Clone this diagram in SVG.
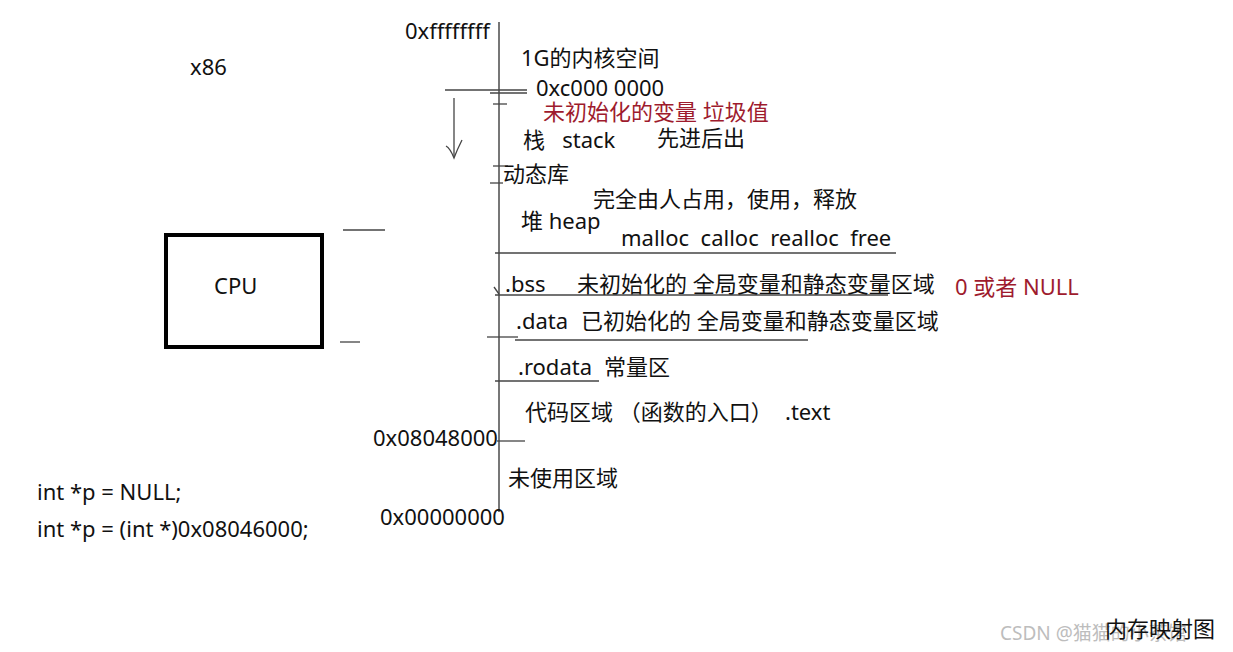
<svg xmlns="http://www.w3.org/2000/svg" width="1233" height="652" viewBox="0 0 1233 652">
<style>
text{font-family:"Noto Sans","Noto Sans CJK SC",sans-serif;font-size:22px;fill:#111}
.red{fill:#9e1b2d}
.wm{fill:#bdbdbd;font-size:19px}
.ln{stroke:#444;stroke-width:1.3;fill:none}
.ax{stroke:#777;stroke-width:2;fill:none}
</style>
<rect width="1233" height="652" fill="#fff"/>
<g id="connectors">
<line class="ax" x1="499" y1="22" x2="499" y2="512"/>
<line class="ln" x1="445" y1="90" x2="527" y2="90"/>
<line class="ln" x1="490" y1="93" x2="527" y2="93"/>
<line class="ln" x1="493" y1="104" x2="507" y2="104"/>
<line class="ln" x1="454" y1="98" x2="454" y2="156"/>
<path class="ln" d="M446,146 Q450,148 454,158 Q457,150 462,140"/>
<line class="ln" x1="493" y1="166" x2="508" y2="166"/>
<line class="ln" x1="490" y1="183" x2="503" y2="183"/>
<line class="ln" x1="495" y1="253" x2="896" y2="253"/>
<line class="ln" x1="494" y1="287" x2="499" y2="294"/>
<line class="ln" x1="495" y1="295" x2="888" y2="295"/>
<line class="ln" x1="487" y1="337" x2="518" y2="337"/>
<line class="ln" x1="515" y1="340" x2="808" y2="340"/>
<line class="ln" x1="495" y1="381" x2="599" y2="381"/>
<line class="ln" x1="497" y1="441" x2="525" y2="441"/>
<line class="ln" x1="343" y1="230" x2="385" y2="230"/>
<line class="ln" x1="340" y1="342" x2="360" y2="342"/>
</g>
<g id="cpu">
<rect x="166" y="235" width="156" height="112" fill="none" stroke="#000" stroke-width="4"/>
<text x="214" y="294">CPU</text>
</g>
<g id="labels">
<text x="190" y="75">x86</text>
<text x="405" y="39">0xffffffff</text>
<text x="521" y="66">1G的内核空间</text>
<text x="536" y="96">0xc000 0000</text>
<text class="red" x="543" y="120">未初始化的变量 垃圾值</text>
<text x="523" y="148" xml:space="preserve">栈   stack</text>
<text x="657" y="146">先进后出</text>
<text x="503" y="182">动态库</text>
<text x="593" y="207">完全由人占用，使用，释放</text>
<text x="521" y="229">堆 heap</text>
<text x="621" y="246" xml:space="preserve">malloc  calloc  realloc  free</text>
<text x="505" y="292">.bss</text>
<text x="577" y="292">未初始化的 全局变量和静态变量区域</text>
<text class="red" x="955" y="295">0 或者 NULL</text>
<text x="516" y="329">.data</text>
<text x="581" y="329">已初始化的 全局变量和静态变量区域</text>
<text x="518" y="375">.rodata</text>
<text x="604" y="375">常量区</text>
<text x="525" y="420">代码区域 （函数的入口）</text>
<text x="785" y="420">.text</text>
<text x="373" y="446">0x08048000</text>
<text x="508" y="486">未使用区域</text>
<text x="380" y="525">0x00000000</text>
<text x="37" y="500">int *p = NULL;</text>
<text x="37" y="537">int *p = (int *)0x08046000;</text>
<text class="wm" x="1000" y="640">CSDN @猫猫的小茶馆</text>
<text x="1105" y="637">内存映射图</text>
</g>
</svg>
